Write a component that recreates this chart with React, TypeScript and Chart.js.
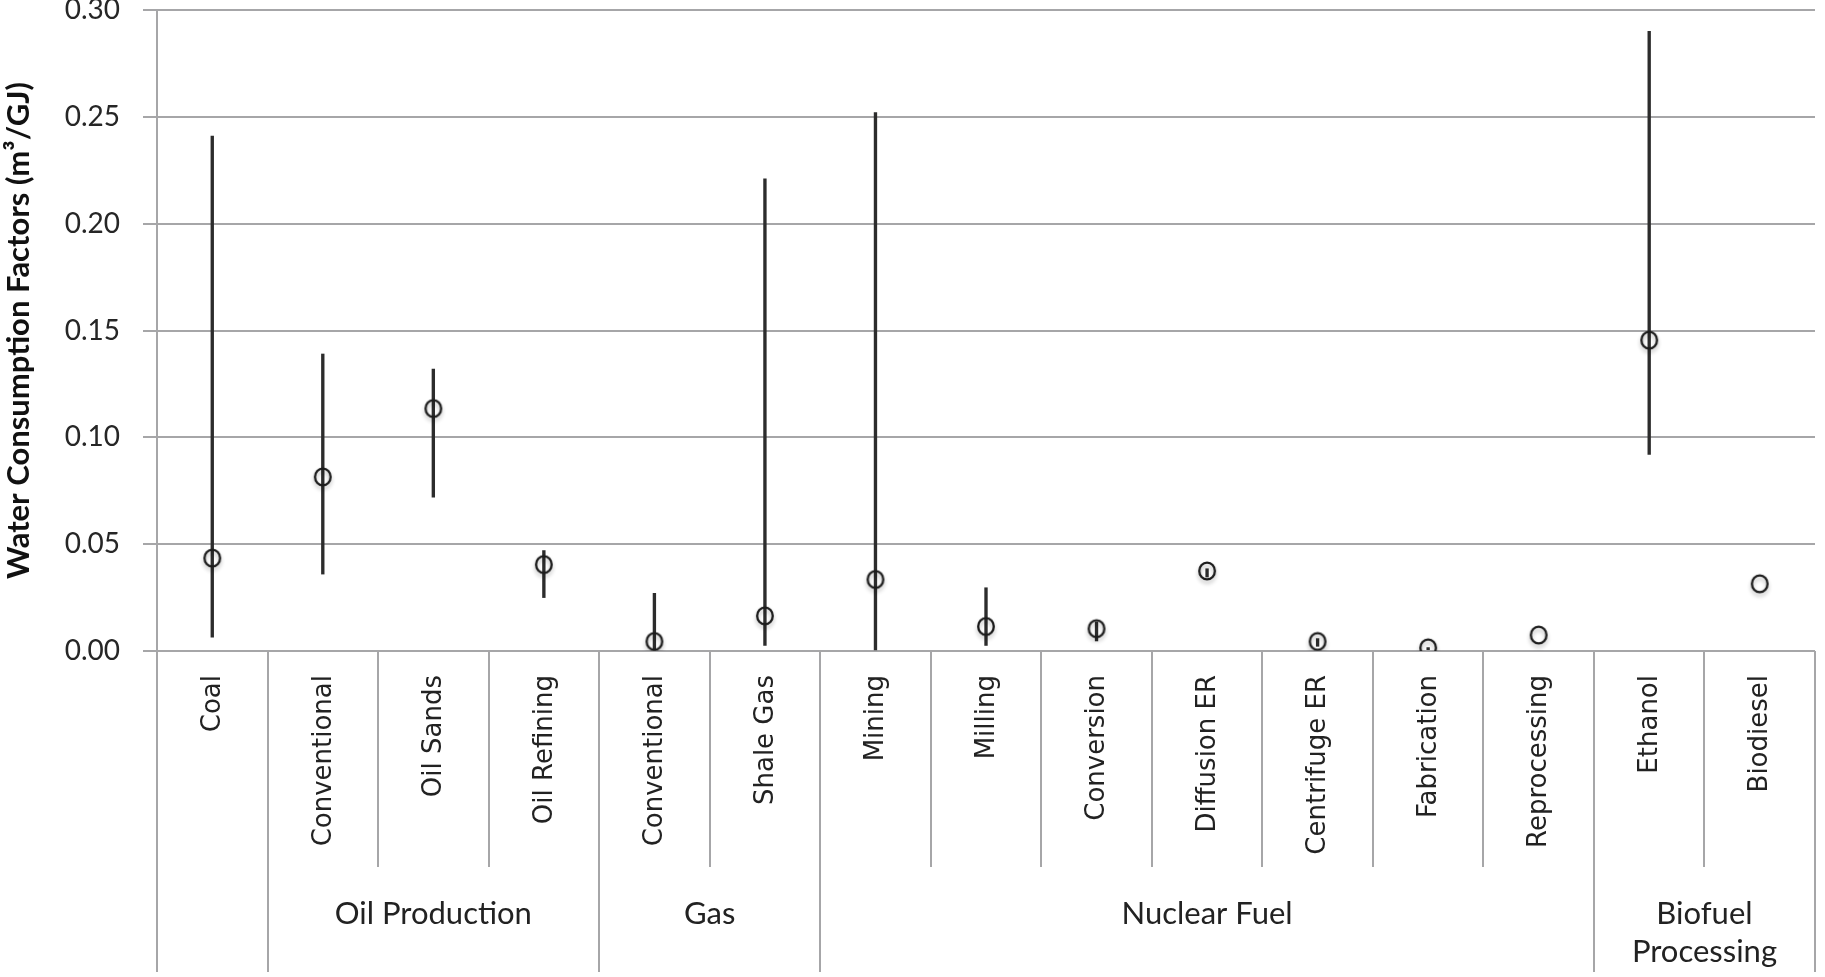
import React, { useEffect, useRef } from "react";
import { Chart, registerables } from "chart.js";

Chart.register(...registerables);

// ---------- data ----------
const categories = [
  "Coal",
  "Conventional",
  "Oil Sands",
  "Oil Refining",
  "Conventional",
  "Shale Gas",
  "Mining",
  "Milling",
  "Conversion",
  "Diffusion ER",
  "Centrifuge ER",
  "Fabrication",
  "Reprocessing",
  "Ethanol",
  "Biodiesel",
];

const groupLabels = [[""], ["Oil Production"], ["Gas"], ["Nuclear Fuel"], ["Biofuel", "Processing"]];
const groupSizes = [1, 3, 2, 7, 2];

const meanValues = [0.043, 0.081, 0.113, 0.040, 0.004, 0.016, 0.033, 0.011, 0.010, 0.037, 0.004, 0.001, 0.007, 0.145, 0.031];
const lowValues = [0.0065, 0.036, 0.072, 0.025, 0.0, 0.0026, 0.0, 0.0026, 0.0047, 0.0346, 0.0022, 0.0006, null, 0.092, null];
const highValues = [0.241, 0.139, 0.132, 0.047, 0.027, 0.221, 0.252, 0.0296, 0.0136, 0.0385, 0.0058, 0.0016, null, 0.29, null];

const yMin = 0;
const yMax = 0.3;
const yStep = 0.05;
const yTitle = "Water Consumption Factors (m³/GJ)";

// ---------- styles ----------
const GRID = "#a6a6a8";
const INK = "#222222";

function makeMarker(): HTMLCanvasElement {
  const c = document.createElement("canvas");
  c.width = 32;
  c.height = 32;
  const ctx = c.getContext("2d")!;
  ctx.shadowColor = "rgba(0,0,0,0.28)";
  ctx.shadowBlur = 4;
  ctx.shadowOffsetY = 3;
  ctx.lineWidth = 2.3;
  ctx.strokeStyle = "#1c1c1c";
  ctx.beginPath();
  ctx.ellipse(16, 15, 7.8, 8.4, 0, 0, Math.PI * 2);
  ctx.stroke();
  return c;
}

const groupPlugin = {
  id: "groupAxis",
  afterDraw(chart: any) {
    const ctx = chart.ctx;
    const xs = chart.scales.x;
    const area = chart.chartArea;
    const n = categories.length;
    const step = xs.getPixelForValue(1) - xs.getPixelForValue(0);
    const boundary = (i: number) => xs.getPixelForValue(i) - step / 2;

    const groupStarts: number[] = [];
    let acc = 0;
    for (const s of groupSizes) {
      groupStarts.push(acc);
      acc += s;
    }
    groupStarts.push(acc);

    ctx.save();
    // dividers
    ctx.strokeStyle = GRID;
    ctx.lineWidth = 2;
    for (let i = 0; i <= n; i++) {
      const isGroup = groupStarts.includes(i);
      const x = Math.round(boundary(i));
      ctx.beginPath();
      ctx.moveTo(x, area.bottom);
      ctx.lineTo(x, area.bottom + (isGroup ? 321 : 216));
      ctx.stroke();
    }

    // category labels (rotated, reading upward, end aligned near the axis)
    ctx.fillStyle = INK;
    ctx.font = "26px 'DejaVu Sans'";
    ctx.textAlign = "right";
    ctx.textBaseline = "middle";
    categories.forEach((label, i) => {
      ctx.save();
      ctx.translate(xs.getPixelForValue(i) + 1, area.bottom + 24);
      ctx.rotate(-Math.PI / 2);
      ctx.fillText(label, 0, 0);
      ctx.restore();
    });

    // group labels
    ctx.font = "31px Lato";
    ctx.textAlign = "center";
    ctx.textBaseline = "middle";
    for (let g = 0; g < groupSizes.length; g++) {
      const a = groupStarts[g];
      const b = groupStarts[g + 1] - 1;
      const cx = (xs.getPixelForValue(a) + xs.getPixelForValue(b)) / 2;
      groupLabels[g].forEach((line, k) => {
        ctx.fillText(line, cx, area.bottom + 263 + k * 38);
      });
    }
    ctx.restore();
  },
};

export default function App() {
  const ref = useRef<HTMLCanvasElement | null>(null);

  useEffect(() => {
    if (!ref.current) return;
    const marker = makeMarker();
    const chart = new Chart(ref.current, {
      type: "bar",
      data: {
        labels: categories,
        datasets: [
          {
            type: "line",
            data: meanValues,
            showLine: false,
            pointStyle: marker as any,
            pointRadius: 9,
            pointHoverRadius: 9,
            borderColor: "#1c1c1c",
            backgroundColor: "transparent",
            order: 0,
          } as any,
          {
            type: "bar",
            data: lowValues.map((l, i) => (l === null || highValues[i] === null ? null : [l, highValues[i]])) as any,
            backgroundColor: "#2c2c2c",
            borderWidth: 0,
            barThickness: 2.7,
            grouped: false,
            order: 1,
          } as any,
        ],
      },
      options: {
        animation: false,
        responsive: false,
        devicePixelRatio: 1,
        layout: { padding: { top: 8, right: 6, left: 0, bottom: 0 } },
        plugins: { legend: { display: false }, tooltip: { enabled: false } },
        scales: {
          x: {
            type: "category",
            offset: true,
            grid: { display: false, drawTicks: false },
            border: { display: false },
            ticks: { display: false, autoSkip: false },
            afterFit(scale: any) {
              scale.height = 326;
              scale.paddingLeft = 0;
              scale.paddingRight = 0;
            },
          },
          y: {
            min: yMin,
            max: yMax,
            grid: { color: GRID, lineWidth: 2, tickLength: 14, drawTicks: true },
            border: { color: GRID, width: 2 },
            ticks: {
              stepSize: yStep,
              padding: 23,
              color: "#262626",
              font: { family: "Lato", size: 28, lineHeight: 0.8 },
              callback: (v: any) => Number(v).toFixed(2),
            },
            title: {
              display: true,
              text: yTitle,
              color: "#111",
              padding: { top: 0, bottom: 0 },
              font: { family: "Lato", size: 31, weight: "bold", lineHeight: 1.2 },
            },
            afterFit(scale: any) {
              scale.width = 157;
              scale.paddingTop = 0;
              scale.paddingBottom = 0;
            },
          },
        },
      },
      plugins: [groupPlugin],
    });
    return () => chart.destroy();
  }, []);

  return (
    <div style={{ position: "absolute", left: 0, top: 0, width: 1825, height: 977, background: "#fff" }}>
      <canvas ref={ref} width={1825} height={977} style={{ display: "block" }} />
    </div>
  );
}
